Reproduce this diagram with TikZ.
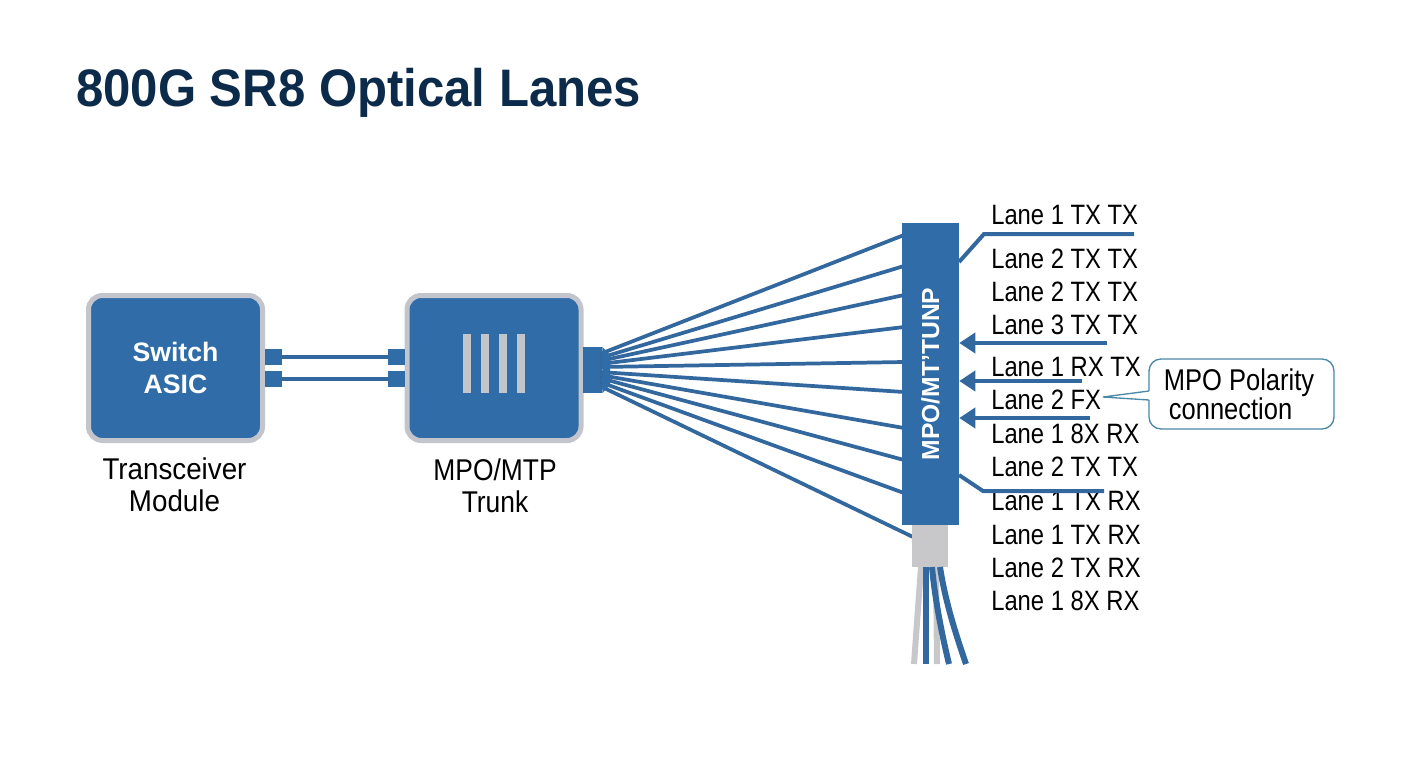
\documentclass[tikz,border=0pt]{standalone}
\usepackage{fontspec}
\setmainfont{Liberation Sans}
\newfontfamily\narrowfont[FakeStretch=0.85]{Liberation Sans}
\newfontfamily\capfont[FakeStretch=0.925]{Liberation Sans}
\newfontfamily\capfontb[FakeStretch=0.88]{Liberation Sans}
\newfontfamily\titlefont[FakeStretch=0.93]{Liberation Sans Bold}
\usetikzlibrary{arrows.meta,calc}
\definecolor{modblue}{HTML}{2F6CA8}
\definecolor{linkblue}{HTML}{33689F}
\definecolor{framegray}{HTML}{C2C5CB}
\definecolor{bootgray}{HTML}{C8C8CB}
\definecolor{titlenavy}{HTML}{0C2A4A}
\definecolor{calloutline}{HTML}{4A88A8}
\tikzset{
  x=0.75pt,y=-0.75pt,
  module/.style={draw=framegray,line width=3.75pt,fill=modblue,rounded corners=10.5pt,minimum width=130.5pt,minimum height=108.75pt,inner sep=0pt},
  port/.style={fill=modblue,minimum width=12.75pt,minimum height=12pt,inner sep=0pt},
  link/.style={draw=linkblue,line width=3pt},
  fan/.style={draw=linkblue,line width=2.8pt},
  slot/.style={fill=framegray,minimum width=6pt,minimum height=44.25pt,inner sep=0pt},
  lane/.style={anchor=west,inner sep=0pt,font=\narrowfont\fontsize{21}{24}\selectfont,text=black},
  caption/.style={align=center,inner sep=0pt,text=black},
  arrowlink/.style={draw=linkblue,line width=3pt,-{Triangle[length=12pt,width=15pt]}},
  strand/.style={line width=4.5pt},
}
\begin{document}
\begin{tikzpicture}
\useasboundingbox[fill=white] (0,0) rectangle (1408,768);
% title
\node[anchor=west,inner sep=0pt,text=titlenavy,font=\titlefont\fontsize{39.6}{44}\selectfont] (title) at (76,92.5) {800G SR8 Optical Lanes};
% modules
\node[module,text=white,align=center,font=\bfseries\fontsize{20}{24.5}\selectfont] (asic) at (175.5,368) {Switch\\ASIC};
\node[module] (trunk) at (494,368) {};
\foreach \i/\x in {1/467,2/485,3/503,4/521}{\node[slot] (slot\i) at (\x,363.5) {};}
% ports and links
\node[port] (pa1) at (273.5,357) {};
\node[port] (pa2) at (273.5,379) {};
\node[port] (pb1) at (396.5,357) {};
\node[port] (pb2) at (396.5,379) {};
\draw[link] (pa1.east) -- (pb1.west);
\draw[link] (pa2.east) -- (pb2.west);
% captions
\node[caption,font=\capfont\fontsize{22.5}{24}\selectfont] (capa) at (174.5,485) {Transceiver\\Module};
\node[caption,font=\capfontb\fontsize{22.5}{24}\selectfont] (capb) at (495,485.5) {MPO/MTP\\Trunk};
% fan connector and bar
\node[fill=modblue,minimum width=14.25pt,minimum height=34.5pt,inner sep=0pt] (fanport) at (592.5,370) {};
\foreach \i/\s/\e in {1/354/235,2/358/266,3/361/295,4/364/327,5/367/362,6/372/392,7/375/428,8/378/460,9/382/493}{
  \coordinate (fs\i) at (600,\s);
  \coordinate (fe\i) at (904,\e);
  \draw[fan] (fs\i) -- (fe\i);
}
\coordinate (fs10) at (600,386);
\coordinate (fe10) at (913,537);
\draw[fan] (fs10) -- (fe10);
\fill[modblue] (fanport.north east) -- (610,355) -- (610,385) -- (fanport.south east) -- cycle;
\node[fill=modblue,minimum width=42.75pt,minimum height=226.5pt,inner sep=0pt,text=white,font=\bfseries\fontsize{18.5}{22}\selectfont] (bar) at (930.5,374) {\rotatebox{90}{MPO/MT’TUNP}};
\node[fill=bootgray,minimum width=27pt,minimum height=31.5pt,inner sep=0pt] (boot) at (930,546) {};
% strands
\coordinate (st1) at (921,567); \coordinate (en1) at (914,664);
\coordinate (st2) at (936,567); \coordinate (en2) at (937,664);
\coordinate (st3) at (926,567); \coordinate (en3) at (926,664);
\coordinate (st4) at (932,567); \coordinate (en4) at (949,664);
\coordinate (st5) at (940,567); \coordinate (en5) at (966,664);
\draw[strand,draw=bootgray] (st1) -- (en1);
\draw[strand,draw=bootgray] (st2) -- (en2);
\draw[strand,draw=linkblue] (st3) -- (en3);
\draw[strand,draw=linkblue] (st4) .. controls (935,600) and (942,635) .. (en4);
\draw[strand,draw=linkblue] (st5) .. controls (945,600) and (955,632) .. (en5);
% lane labels
\foreach \i/\y/\t in {1/215/Lane 1 TX TX,2/259/Lane 2 TX TX,3/292/Lane 2 TX TX,4/325/Lane 3 TX TX,5/367/Lane 1 RX TX,6/400/Lane 2 FX,7/434/Lane 1 8X RX,8/467/Lane 2 TX TX,9/501/Lane 1 TX RX,10/535/Lane 1 TX RX,11/568/Lane 2 TX RX,12/601/Lane 1 8X RX}{
  \node[lane] (lane\i) at (991,\y) {\t};
}
% lane leaders
\coordinate (t1) at (984,234); \coordinate (t2) at (1134,234);
\coordinate (t0) at (959,262);
\draw[link] (t0) -- (t1) -- (t2);
\coordinate (b0) at (959,475); \coordinate (b1) at (983,491); \coordinate (b2) at (1104,491);
\draw[link] (b0) -- (b1) -- (b2);
\coordinate (a1) at (1107,343); \coordinate (a2) at (1082,381); \coordinate (a3) at (1090,418);
\draw[arrowlink] (a1) -- (bar.east |- a1);
\draw[arrowlink] (a2) -- (bar.east |- a2);
\draw[arrowlink] (a3) -- (bar.east |- a3);
% callout
\node[draw=calloutline,line width=1pt,fill=white,rounded corners=9pt,minimum width=138.75pt,minimum height=52.5pt,inner sep=0pt] (callout) at (1241.5,394) {};
\coordinate (ctip) at (1103,397);
\coordinate (cu) at (1149,391);
\coordinate (cl) at (1149,400);
\fill[white] (cu) -- (ctip) -- (cl) -- cycle;
\draw[white,line width=1.4pt] (cu) -- (cl);
\draw[calloutline,line width=1pt] (cu) -- (ctip) -- (cl);
\node[inner sep=0pt,font=\narrowfont\fontsize{22.5}{20}\selectfont,align=left] (calloutlabel) at (1239,394.5) {MPO Polarity\\\hspace*{3.75pt}connection};
\end{tikzpicture}
\end{document}
